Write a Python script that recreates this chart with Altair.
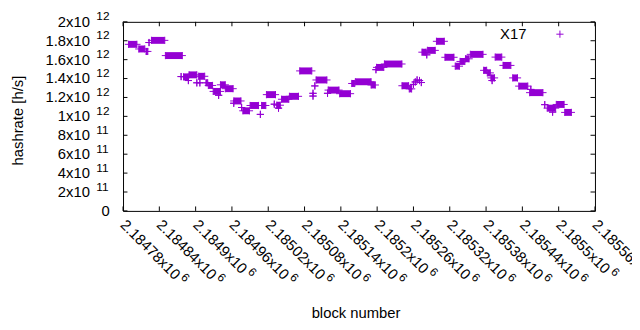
import altair as alt
import pandas as pd

PURPLE = "#9400D3"
FONT = "Liberation Sans"

# runs of blocks with the same hashrate (start block, end block, hashrate in 1e12 h/s)
seg_start = [2184789, 2184806, 2184818, 2184823, 2184827, 2184850, 2184876, 2184880, 2184888, 2184889,
             2184902, 2184907, 2184905, 2184917, 2184921, 2184929, 2184938, 2184941, 2184949, 2184963,
             2184963, 2184976, 2184978, 2184990, 2185007, 2185009, 2185017, 2185030, 2185034, 2185037,
             2185042, 2185055, 2185072, 2185094, 2185094, 2185097, 2185099, 2185118, 2185119, 2185138,
             2185158, 2185164, 2185190, 2185198, 2185199, 2185212, 2185241, 2185253, 2185260, 2185263,
             2185266, 2185270, 2185273, 2185274, 2185282, 2185283, 2185298, 2185312, 2185329, 2185337,
             2185346, 2185354, 2185376, 2185382, 2185388, 2185390, 2185395, 2185408, 2185424, 2185434,
             2185452, 2185454, 2185477, 2185481, 2185490, 2185496, 2185510]
seg_end = [2184803, 2184816, 2184821, 2184823, 2184849, 2184878, 2184876, 2184888, 2184888, 2184902,
           2184902, 2184907, 2184915, 2184920, 2184928, 2184941, 2184938, 2184949, 2184962, 2184975,
           2184963, 2184976, 2184989, 2185004, 2185007, 2185016, 2185032, 2185030, 2185040, 2185037,
           2185054, 2185070, 2185092, 2185094, 2185094, 2185097, 2185117, 2185118, 2185137, 2185156,
           2185163, 2185190, 2185197, 2185198, 2185211, 2185241, 2185252, 2185257, 2185260, 2185263,
           2185266, 2185270, 2185273, 2185281, 2185282, 2185296, 2185311, 2185327, 2185336, 2185345,
           2185352, 2185375, 2185381, 2185387, 2185394, 2185390, 2185406, 2185421, 2185432, 2185449,
           2185474, 2185454, 2185477, 2185495, 2185490, 2185509, 2185521]
hashrate_tera = [1.762, 1.713, 1.687, 1.781, 1.804, 1.643, 1.421, 1.418, 1.379, 1.439,
                 1.355, 1.355, 1.424, 1.355, 1.327, 1.264, 1.223, 1.334, 1.293, 1.163,
                 1.139, 1.094, 1.059, 1.115, 1.021, 1.115, 1.230, 1.129, 1.118, 1.087,
                 1.181, 1.212, 1.481, 1.244, 1.215, 1.322, 1.385, 1.244, 1.278, 1.240,
                 1.348, 1.366, 1.332, 1.494, 1.518, 1.554, 1.324, 1.291, 1.338, 1.364,
                 1.385, 1.379, 1.358, 1.679, 1.651, 1.698, 1.794, 1.625, 1.531, 1.581,
                 1.609, 1.656, 1.487, 1.460, 1.407, 1.379, 1.627, 1.539, 1.407, 1.320,
                 1.251, 1.285, 1.124, 1.087, 1.045, 1.126, 1.042]

x_tick_values = [2184780, 2184840, 2184900, 2184960, 2185020, 2185080, 2185140,
                 2185200, 2185260, 2185320, 2185380, 2185440, 2185500, 2185560]
x_tick_text = ["2.18478x10", "2.18484x10", "2.1849x10", "2.18496x10", "2.18502x10", "2.18508x10",
               "2.18514x10", "2.1852x10", "2.18526x10", "2.18532x10", "2.18538x10", "2.18544x10",
               "2.1855x10", "2.18556x10"]
x_tick_exp = ["6"] * 14
y_tick_values = [0, 2e11, 4e11, 6e11, 8e11, 1e12, 1.2e12, 1.4e12, 1.6e12, 1.8e12, 2e12]
y_tick_text = ["0", "2x10", "4x10", "6x10", "8x10", "1x10", "1.2x10", "1.4x10", "1.6x10", "1.8x10", "2x10"]
y_tick_exp = ["", "11", "11", "11", "11", "12", "12", "12", "12", "12", "12"]

W, H, TL = 478, 191.5, 4.5
PLUS = "M-1,0H1M0,-1V1"

seg = pd.DataFrame({"start": seg_start, "end": seg_end,
                    "rate": [v * 1e12 for v in hashrate_tera]})
xt = pd.DataFrame({"v": x_tick_values, "t": x_tick_text, "e": x_tick_exp})
yt = pd.DataFrame({"v": y_tick_values, "t": y_tick_text, "e": y_tick_exp})

xs = alt.Scale(domain=[2184780, 2185560], nice=False, zero=False)
ys = alt.Scale(domain=[0, 2e12], nice=False)

bodies = alt.Chart(seg).mark_rule(strokeWidth=7, color=PURPLE).encode(
    x=alt.X("start:Q", scale=xs, axis=None), x2="end:Q",
    y=alt.Y("rate:Q", scale=ys, axis=None))

ends = alt.Chart(seg).transform_fold(["start", "end"], as_=["k", "bx"]).mark_point(
    shape=PLUS, size=53, filled=False, strokeWidth=1, opacity=1, color=PURPLE).encode(
    x=alt.X("bx:Q", scale=xs, axis=None), y=alt.Y("rate:Q", scale=ys, axis=None))

tick = dict(color="black", strokeWidth=1)
ytick_l = alt.Chart(yt).mark_rule(**tick).encode(
    y=alt.Y("v:Q", scale=ys, axis=None), x=alt.value(0), x2=alt.value(TL))
ytick_r = alt.Chart(yt).mark_rule(**tick).encode(
    y=alt.Y("v:Q", scale=ys, axis=None), x=alt.value(W - TL), x2=alt.value(W))
xtick_b = alt.Chart(xt).mark_rule(**tick).encode(
    x=alt.X("v:Q", scale=xs, axis=None), y=alt.value(H - TL), y2=alt.value(H))
xtick_t = alt.Chart(xt).mark_rule(**tick).encode(
    x=alt.X("v:Q", scale=xs, axis=None), y=alt.value(0), y2=alt.value(TL))

txt = dict(font=FONT, color="black")
ylab = alt.Chart(yt).transform_filter("datum.e != ''").mark_text(
    align="right", baseline="middle", fontSize=15, **txt).encode(
    y=alt.Y("v:Q", scale=ys, axis=None), x=alt.value(-33.5), text="t:N")
yexp = alt.Chart(yt).transform_filter("datum.e != ''").mark_text(
    align="left", baseline="middle", fontSize=12, dy=-5.5, **txt).encode(
    y=alt.Y("v:Q", scale=ys, axis=None), x=alt.value(-27), text="e:N")
yzero = alt.Chart(yt).transform_filter("datum.e == ''").mark_text(
    align="right", baseline="middle", fontSize=15, **txt).encode(
    y=alt.Y("v:Q", scale=ys, axis=None), x=alt.value(-13.5), text="t:N")

xlab = alt.Chart(xt).mark_text(
    align="left", baseline="middle", angle=45, fontSize=15, **txt).encode(
    x=alt.X("v:Q", scale=xs, axis=None), y=alt.value(203), text="t:N")
xexp_long = alt.Chart(xt).transform_filter("length(datum.t) == 10").mark_text(
    align="left", baseline="middle", angle=45, fontSize=12, dx=81, dy=-5, **txt).encode(
    x=alt.X("v:Q", scale=xs, axis=None), y=alt.value(203), text="e:N")
xexp_short = alt.Chart(xt).transform_filter("length(datum.t) == 9").mark_text(
    align="left", baseline="middle", angle=45, fontSize=12, dx=73, dy=-5, **txt).encode(
    x=alt.X("v:Q", scale=xs, axis=None), y=alt.value(203), text="e:N")

ytitle = alt.Chart(pd.DataFrame({"t": ["hashrate [h/s]"]})).mark_text(
    angle=270, align="center", baseline="middle", fontSize=15, **txt).encode(
    x=alt.value(-106.5), y=alt.value(100), text="t:N")
xtitle = alt.Chart(pd.DataFrame({"t": ["block number"]})).mark_text(
    align="center", baseline="middle", fontSize=15, **txt).encode(
    x=alt.value(236), y=alt.value(295), text="t:N")

legend_df = pd.DataFrame({"t": ["X17"]})
leg_text = alt.Chart(legend_df).mark_text(
    align="right", baseline="middle", fontSize=15, **txt).encode(
    x=alt.value(408.5), y=alt.value(12.5), text="t:N")
leg_sym = alt.Chart(legend_df).mark_point(
    shape=PLUS, size=53, filled=False, strokeWidth=1, opacity=1, color=PURPLE).encode(
    x=alt.value(442.5), y=alt.value(12.5))

chart = alt.layer(
    bodies, ends, ytick_l, ytick_r, xtick_b, xtick_t,
    ylab, yexp, yzero, xlab, xexp_long, xexp_short,
    ytitle, xtitle, leg_text, leg_sym
).properties(
    width=W, height=H,
    autosize=alt.AutoSizeParams(type="none"),
    padding={"left": 116.5, "top": 12, "right": 37.5, "bottom": 110.5},
).configure_view(stroke="black", strokeWidth=1)

chart.save("out.html", embed_options={"renderer": "svg", "actions": False})
